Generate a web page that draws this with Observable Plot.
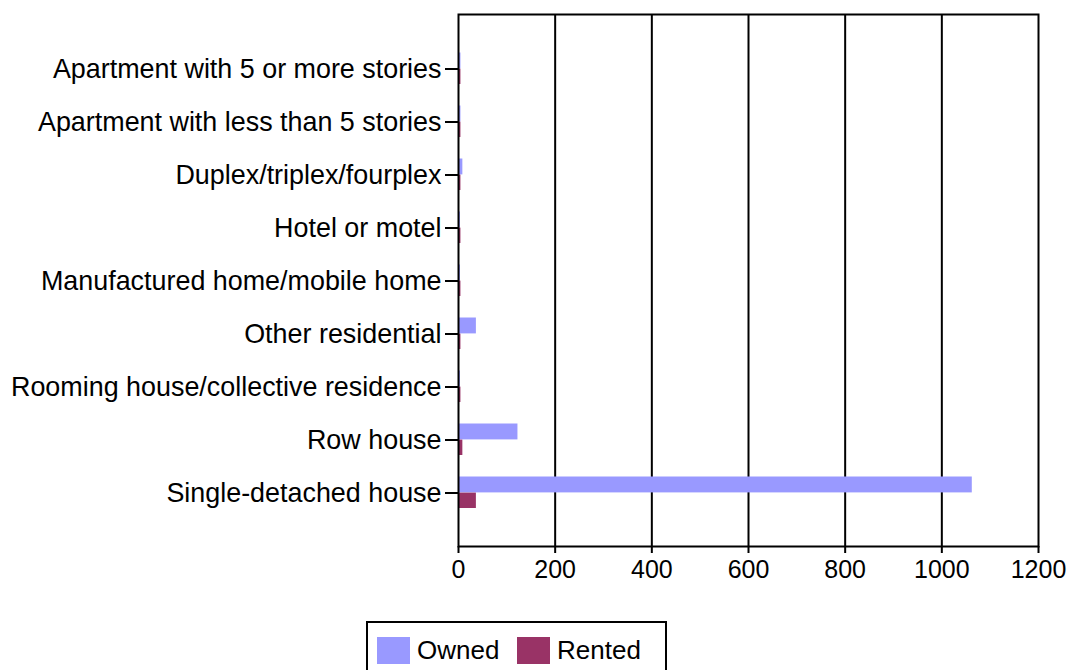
<!DOCTYPE html>
<html>
<head>
<meta charset="utf-8">
<script src="https://cdn.jsdelivr.net/npm/d3@7"></script>
<script src="https://cdn.jsdelivr.net/npm/@observablehq/plot@0.6"></script>
<style>
  html, body { margin: 0; padding: 0; background: #fff; }
  body { width: 1069px; height: 670px; position: relative; overflow: hidden; font-family: "Liberation Sans", Arial, sans-serif; }
  #chart svg { display: block; }
  #legend { position: absolute; left: 366px; top: 621px; width: 301px; height: 70px; border: 2px solid #000; box-sizing: border-box; background: #fff; }
  .item { position: absolute; top: 14px; display: flex; align-items: center; font-size: 26px; color: #000; line-height: 27px; }
  .sw { width: 33px; height: 27px; margin-right: 7px; }
</style>
</head>
<body>
<div id="chart"></div>
<div id="legend">
  <div class="item" style="left:9px"><div class="sw" id="sw0"></div><span id="lb0"></span></div>
  <div class="item" style="left:149px"><div class="sw" id="sw1"></div><span id="lb1"></span></div>
</div>
<script>
const categories = [
  "Apartment with 5 or more stories",
  "Apartment with less than 5 stories",
  "Duplex/triplex/fourplex",
  "Hotel or motel",
  "Manufactured home/mobile home",
  "Other residential",
  "Rooming house/collective residence",
  "Row house",
  "Single-detached house"
];
const owned  = [5, 5, 9, 4, 4, 37, 4, 123, 1063];
const rented = [5, 5, 5, 5, 5, 5, 5, 9, 37];
const seriesNames = ["Owned", "Rented"];
const seriesColors = ["#9999ff", "#993366"];
const xTicks = [0, 200, 400, 600, 800, 1000, 1200];
const gridTicks = [200, 400, 600, 800, 1000];

const rows = categories.map((c, i) => ({category: c, owned: owned[i], rented: rented[i]}));

const chart = Plot.plot({
  width: 1069,
  height: 600,
  marginLeft: 458,
  marginRight: 31,
  marginTop: 14,
  marginBottom: 54,
  style: {fontFamily: "'Liberation Sans', Arial, sans-serif", color: "#000", background: "#fff"},
  x: {domain: [0, 1200]},
  y: {domain: categories, paddingInner: 0, paddingOuter: 0.5},
  marks: [
    Plot.ruleX(gridTicks, {stroke: "#000", strokeWidth: 2}),
    Plot.barX(rows, {y: "category", x: "owned", fill: seriesColors[0], insetTop: 10.5, insetBottom: 26.6}),
    Plot.barX(rows, {y: "category", x: "rented", fill: seriesColors[1], insetTop: 26.6, insetBottom: 11}),
    Plot.frame({stroke: "#000", strokeWidth: 2}),
    Plot.axisY({label: null, tickSize: 13, tickPadding: 4, fontSize: 26.9, strokeWidth: 2}),
    Plot.axisX({label: null, ticks: xTicks, tickFormat: d => String(d), tickSize: 7, tickPadding: 7, fontSize: 25, strokeWidth: 2})
  ]
});
document.getElementById("chart").appendChild(chart);

seriesNames.forEach((n, i) => {
  document.getElementById("sw" + i).style.background = seriesColors[i];
  document.getElementById("lb" + i).textContent = n;
});
</script>
</body>
</html>
